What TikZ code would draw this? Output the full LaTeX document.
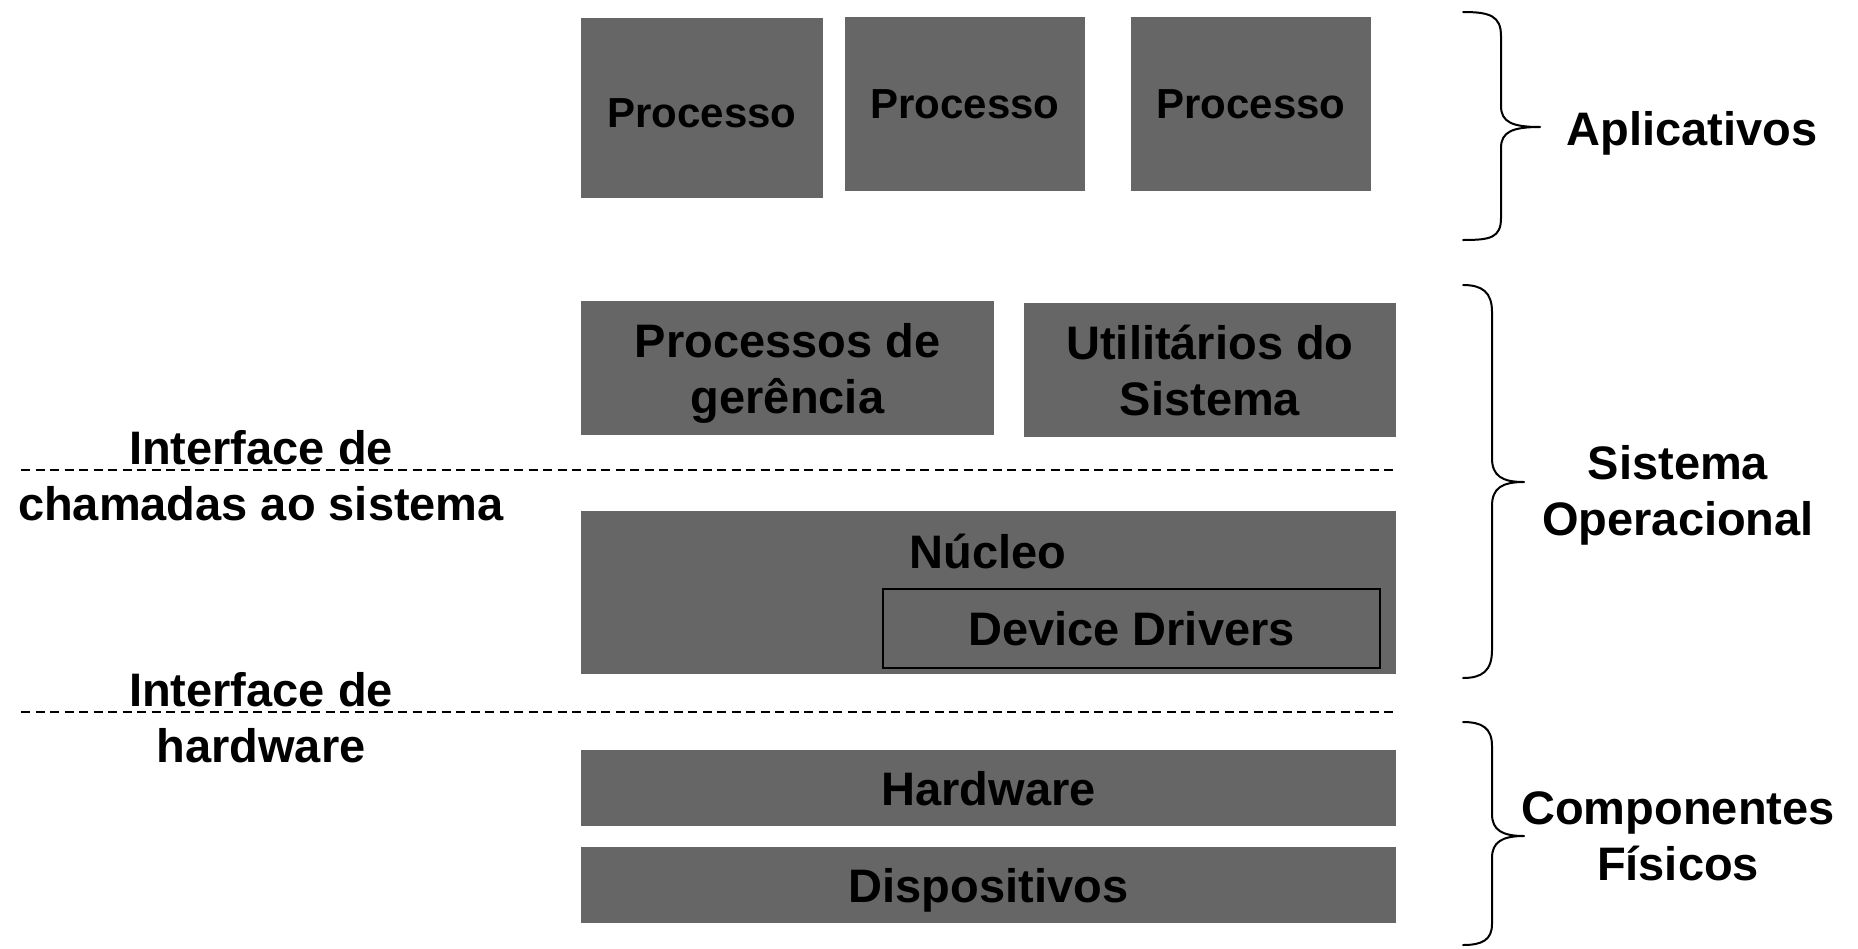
\documentclass[tikz,border=0pt]{standalone}
\usepackage{fontspec}
\setmainfont{Liberation Sans}
\definecolor{boxgray}{HTML}{666666}
\begin{document}
\begin{tikzpicture}[x=1pt,y=-1pt,
  box/.style={fill=boxgray, draw=none, inner sep=0pt, align=center,
    font=\bfseries\fontsize{47}{56}\selectfont},
  procbox/.style={box, font=\bfseries\fontsize{42}{50}\selectfont},
  lbl/.style={inner sep=0pt, align=center, font=\bfseries\fontsize{47}{56}\selectfont},
  sep/.style={line width=2.5pt, dash pattern=on 9pt off 5.5pt},
  brace/.style={line width=2pt, line cap=round, line join=round}]
\useasboundingbox[fill=white] (0,0) rectangle (1858,948);

% Aplicativos
\node[procbox, text depth=0pt, text height=39pt, minimum width=242pt, minimum height=180pt] (p1) at (702,108) {Processo};
\node[procbox, minimum width=240pt, minimum height=174pt] (p2) at (965,104) {Processo};
\node[procbox, minimum width=240pt, minimum height=174pt] (p3) at (1251,104) {Processo};

% Sistema operacional
\node[box, text depth=0pt, minimum width=413pt, minimum height=134pt] (pg) at (787.5,368) {Processos de\\ger\^encia};
\node[box, minimum width=372pt, minimum height=134pt] (ut) at (1210,370) {Utilit\'arios do\\Sistema};
\node[box, minimum width=815pt, minimum height=163pt] (nuc) at (988.5,592.5) {};
\node[lbl] (nuct) at (988,551) {N\'ucleo};
\node[box, draw=black, line width=2pt, minimum width=497pt, minimum height=79pt] (dd) at (1131.5,628.5) {Device Drivers};

% Componentes fisicos
\node[box, text height=36pt, minimum width=815pt, minimum height=76pt] (hw) at (988.5,788) {Hardware};
\node[box, text depth=0pt, minimum width=815pt, minimum height=76pt] (dp) at (988.5,885) {Dispositivos};

% interfaces
\coordinate (s1a) at (21,470);
\coordinate (s1b) at (1396,470);
\coordinate (s2a) at (21,712);
\coordinate (s2b) at (1396,712);
\draw[sep] (s1a) -- (s1b);
\draw[sep] (s2a) -- (s2b);
\node[lbl] (if1) at (261,476) {Interface de\\chamadas ao sistema};
\node[lbl] (if2) at (261,718) {Interface de\\hardware};

% braces
\draw[brace] (1463,12) .. controls (1490,12) and (1501,16) .. (1501,36) -- (1501,106)
  .. controls (1501,122) and (1512,127) .. (1540,127)
  .. controls (1512,127) and (1501,132) .. (1501,148) -- (1501,218)
  .. controls (1501,238) and (1490,240) .. (1463,240);
\draw[brace] (1463,285) .. controls (1482,285) and (1492,292) .. (1492,312) -- (1492,458)
  .. controls (1492,476) and (1502,482) .. (1524,482)
  .. controls (1502,482) and (1492,488) .. (1492,506) -- (1492,650)
  .. controls (1492,671) and (1482,678) .. (1463,678);
\draw[brace] (1463,722) .. controls (1482,722) and (1492,728) .. (1492,746) -- (1492,814)
  .. controls (1492,830) and (1502,836) .. (1524,836)
  .. controls (1502,836) and (1492,842) .. (1492,858) -- (1492,924)
  .. controls (1492,940) and (1482,945) .. (1463,945);

\node[lbl, text depth=0pt] (apl) at (1692,128) {Aplicativos};
\node[lbl, text depth=0pt] (so) at (1678,490) {Sistema\\Operacional};
\node[lbl] (cf) at (1678,836) {Componentes\\F\'isicos};
\end{tikzpicture}
\end{document}
